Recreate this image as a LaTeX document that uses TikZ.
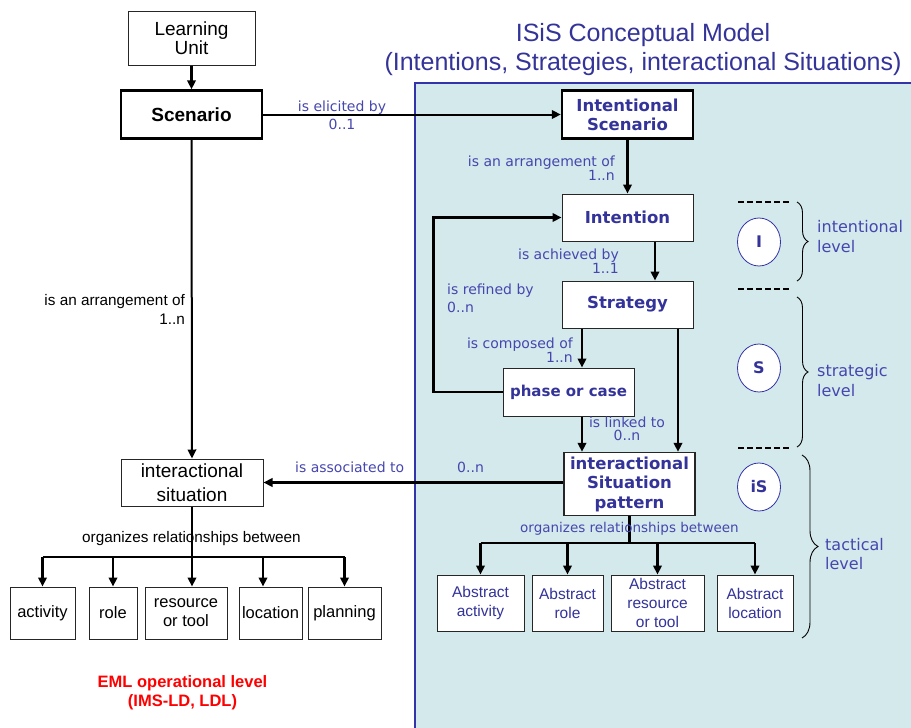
\documentclass[tikz,border=0pt]{standalone}
\usepackage{fontspec}
\setmainfont{Liberation Sans}
\newfontfamily\vfont{DejaVu Sans}
\usetikzlibrary{arrows.meta,shapes.geometric,decorations.pathreplacing}
\definecolor{panelfill}{RGB}{212,233,236}
\definecolor{panelline}{RGB}{51,51,170}
\definecolor{isisblue}{RGB}{51,51,153}
\definecolor{lblblue}{RGB}{70,70,175}
\newcommand{\fsz}[2]{\fontsize{#1}{#2}\selectfont}

\begin{document}
\begin{tikzpicture}[x=1pt, y=-1pt,
    box/.style={draw=black!85, fill=white, line width=1pt, inner sep=1pt, align=center},
    thickbox/.style={box, draw=black, line width=2.4pt},
    blkbox/.style={box, font=\fsz{16.5}{19}},
    absbox/.style={box, text=isisblue, font=\fsz{15.5}{19}},
    isisbox/.style={box, text=isisblue, font=\vfont\bfseries\fsz{16.5}{19.5}},
    lvl/.style={ellipse, draw=panelline, fill=white, line width=0.8pt, minimum width=43pt,
                minimum height=48pt, inner sep=0pt, text=isisblue, font=\vfont\bfseries\fsz{16}{19}},
    arr/.style={-{Triangle[length=9pt,width=8.5pt]}, line width=2.2pt},
    bus/.style={line width=2.8pt},
    lbl/.style={inner sep=0pt, text=lblblue, font=\vfont\fsz{14}{13}},
    blbl/.style={inner sep=0pt, font=\fsz{15.3}{19}},
    lvltxt/.style={inner sep=0pt, text=lblblue, align=left, anchor=west, font=\vfont\fsz{16}{20}},
    brc/.style={decorate, decoration={brace, amplitude=11pt}, line width=0.9pt},
    sep/.style={dash pattern=on 6pt off 3pt, line width=2pt}
]
    \useasboundingbox (0,0) rectangle (911,728);

    % ISiS panel
    \fill[panelfill] (415,83) rectangle (911,728);
    \draw[panelline, line width=2pt] (415,728) -- (415,83) -- (911,83);
    \node[text=isisblue, align=center, inner sep=0pt, font=\fsz{25}{29}] (title) at (643,50)
        {ISiS Conceptual Model\\(Intentions, Strategies, interactional Situations)};

    % EML side
    \node[box, font=\fsz{19}{19}, minimum width=127pt, minimum height=54pt] (lu) at (191.5,38) {Learning\\Unit};
    \node[thickbox, font=\bfseries\fsz{19}{19}, minimum width=141pt, minimum height=48pt] (scen) at (191.5,114.5) {Scenario};
    \node[box, font=\fsz{19}{24}, minimum width=142pt, minimum height=47pt] (isit) at (192,482.5) {interactional\\situation};
    \foreach \n/\x/\w/\t in {act/42.5/65/activity, role/113/48/role, res/186/82/{resource\\or tool},
                             loc/270.5/63/location, plan/344.5/73/planning}
        \node[blkbox, minimum width=\w pt, minimum height=52pt] (\n) at (\x,613) {\t};

    % ISiS side
    \node[thickbox, text=isisblue, font=\vfont\bfseries\fsz{16.5}{19}, minimum width=131pt, minimum height=48pt] (iscen) at (627.5,114.5) {Intentional\\Scenario};
    \node[isisbox, minimum width=131pt, minimum height=47pt] (inten) at (627.5,217.5) {Intention};
    \node[isisbox, minimum width=131pt, minimum height=47pt] (strat) at (627.5,304.5) {Strategy};
    \node[isisbox, font=\vfont\bfseries\fsz{15}{17}, minimum width=131pt, minimum height=48pt] (phase) at (568.5,392) {phase or case};
    \node[isisbox, line width=1.4pt, minimum width=131pt, minimum height=63pt] (ispat) at (629.5,484) {interactional\\Situation\\pattern};
    \foreach \n/\x/\w/\t in {aact/480.5/87/{Abstract\\activity}, arole/567.5/71/{Abstract\\role},
                             ares/657.5/93/{Abstract\\resource\\or tool}, aloc/755/76/{Abstract\\location}}
        \node[absbox, minimum width=\w pt, minimum height=56pt] (\n) at (\x,603) {\t};

    % levels
    \node[lvl] (cI) at (759,242) {I};
    \node[lvl] (cS) at (759,368) {S};
    \node[lvl] (ciS) at (759,487) {iS};
    \foreach \y in {202,289,448}
        \draw[sep] (738,\y) -- (790,\y);
    \draw[brc] (797,202) -- (797,281);
    \draw[brc] (797,297) -- (797,447);
    \draw[brc, decoration={brace, amplitude=16pt}] (802,455) -- (802,638);
    \node[lvltxt] (tint) at (817,236.9) {intentional\\level};
    \node[lvltxt] (tstr) at (817,380.2) {strategic\\level};
    \node[lvltxt, font=\vfont\fsz{16}{19}] (ttac) at (825,554.4) {tactical\\level};

    % connectors
    \draw[arr] (lu) -- (scen);
    \draw[arr, line width=2pt] (scen) -- (iscen);
    \draw[arr, line width=2pt] (scen) -- (isit);
    \draw[arr] (iscen) -- (inten);
    \draw[arr] ([xshift=27.5pt]inten.south) -- ([xshift=27.5pt]strat.north);
    \draw[arr] ([xshift=-45.5pt]strat.south) -- ([xshift=13.5pt]phase.north);
    \draw[arr] ([xshift=50.5pt]strat.south) -- ([xshift=48.5pt]ispat.north);
    \draw[arr] ([xshift=13.5pt]phase.south) -- ([xshift=-47.5pt]ispat.north);
    \draw[arr] (phase.west) -- ++(-69,0) |- (inten.west);
    \draw[arr, line width=3pt] (ispat.west |- isit.east) -- (isit.east);

    \coordinate (rbus) at (629.5,543);
    \draw[bus] (ispat.south) -- (rbus);
    \draw[bus] (aact.north |- rbus) -- (aloc.north |- rbus);
    \foreach \n in {aact,arole,ares,aloc}
        \draw[arr] (\n.north |- rbus) -- (\n.north);

    \coordinate (lbus) at (192,557);
    \draw[bus] (isit.south) -- (lbus);
    \draw[bus] (act.north |- lbus) -- (plan.north |- lbus);
    \foreach \n/\d in {act/0,role/0,res/6,loc/-7.5,plan/0}
        \draw[arr] ([xshift=\d pt]\n.north |- lbus) -- ([xshift=\d pt]\n.north);

    % labels
    \node[lbl, align=center] (lelic) at (342,115.2) {is elicited by\\[4pt]0..1};
    \node[lbl, align=right, anchor=east] (larr) at (615,168.2) {is an arrangement of\\1..n};
    \node[lbl, align=right, anchor=east] (lach) at (619,261.2) {is achieved by\\1..1};
    \node[lbl, align=left, anchor=west] (lref) at (447,298.2) {is refined by\\[4pt]0..n};
    \node[lbl, align=right, anchor=east] (lcomp) at (573,350) {is composed of\\1..n};
    \node[lbl, align=center] (llink) at (627,429.2) {is linked to\\0..n};
    \node[lbl, anchor=base west] (lassoc) at (295,472) {is associated to};
    \node[lbl, anchor=base west] (lmult) at (457,472) {0..n};
    \node[lbl, font=\vfont\fsz{13.5}{13}, anchor=base west] (lorg) at (520,532) {organizes relationships between};
    \node[blbl, align=right, anchor=east] (larr2) at (185,309) {is an arrangement of\\1..n};
    \node[blbl, anchor=base west] (lorg2) at (82,542) {organizes relationships between};
    \node[inner sep=0pt, text=red, align=center, font=\bfseries\fsz{16.5}{19}] (eml) at (182.5,693.2)
        {EML operational level\\(IMS-LD, LDL)};
\end{tikzpicture}
\end{document}
